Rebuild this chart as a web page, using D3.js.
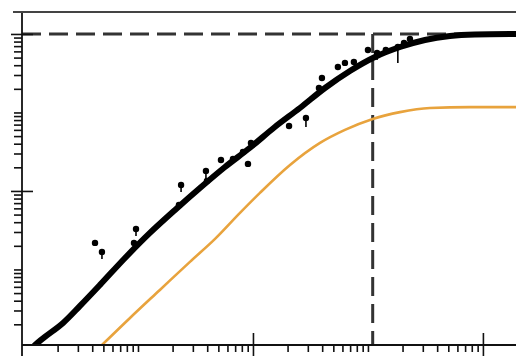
<!DOCTYPE html>
<html>
<head>
<meta charset="utf-8">
<script src="https://cdn.jsdelivr.net/npm/d3@7"></script>
<style>
  html, body { margin: 0; padding: 0; background: #fff; }
  svg { display: block; }
</style>
</head>
<body>
<div id="chart"></div>
<script>
var svgWidth = 516;
var svgHeight = 356;

// thick black model curve
var modelX = [1.27, 1.55, 2.23, 3.13, 4.67, 7.71, 12.7, 21.0, 34.6, 57.1, 94.2, 155, 256, 423, 697, 1150, 1900, 3130, 5160, 8520, 19400];
var modelY = [1.09, 1.38, 2.08, 3.43, 6.35, 14.0, 29.2, 57.3, 109, 202, 355, 653, 1140, 2050, 3380, 5090, 6820, 8390, 9430, 9850, 10000];

// orange curve
var lowerX = [4.86, 8.52, 15.5, 28.3, 46.8, 77.1, 115, 210, 383, 631, 1100, 1900, 3460, 7710, 19400];
var lowerY = [1.09, 2.41, 5.48, 12.5, 24.5, 52.5, 94.4, 214, 409, 599, 826, 1010, 1140, 1170, 1170];

// measured points, with lower end of error bar (null = none)
var obsX = [4.23, 4.86, 9.61, 9.23, 23.7, 22.7, 39.0, 39.8, 52.7, 67.0, 81.8, 90.5, 96.1, 206, 289, 398, 375, 548, 631, 755, 1000, 1200, 1430, 1820, 2060, 2320];
var obsY = [21.8, 16.7, 32.8, 21.8, 119, 66.4, 180, 134, 248, 256, 314, 221, 409, 673, 851, 2750, 2050, 3800, 4280, 4400, 6250, 5730, 6250, 6820, 7680, 8630];
var obsLow = [null, 13.6, 26.7, null, 97.1, null, 138, null, null, null, null, null, null, null, 653, null, null, null, null, null, null, 4660, null, 4280, null, null];

// reference levels
var refY = 10000;
var refX = 1100;

var xDomain = [0.98, 19400];
var yDomain = [1.09, 19050];

var plotLeft = 22, plotRight = 516, plotTop = 12, plotBottom = 345;

var svg = d3.select("#chart")
  .append("svg")
  .attr("width", svgWidth)
  .attr("height", svgHeight);

var x = d3.scaleLog().domain(xDomain).range([plotLeft, plotRight]);
var y = d3.scaleLog().domain(yDomain).range([plotBottom, plotTop]);

svg.append("clipPath").attr("id", "plot")
  .append("rect")
  .attr("x", plotLeft).attr("y", plotTop)
  .attr("width", plotRight - plotLeft).attr("height", plotBottom - plotTop);

var plot = svg.append("g").attr("clip-path", "url(#plot)");

// dashed reference lines
plot.append("line")
  .attr("x1", plotLeft).attr("x2", plotRight)
  .attr("y1", y(refY)).attr("y2", y(refY))
  .attr("stroke", "#333").attr("stroke-width", 3)
  .attr("stroke-dasharray", "19,8");

plot.append("line")
  .attr("x1", x(refX)).attr("x2", x(refX))
  .attr("y1", y(refY)).attr("y2", plotBottom)
  .attr("stroke", "#333").attr("stroke-width", 3)
  .attr("stroke-dasharray", "19,8");

var line = d3.line()
  .x(d => x(d[0]))
  .y(d => y(d[1]))
  .curve(d3.curveMonotoneX);

plot.append("path")
  .datum(d3.zip(lowerX, lowerY))
  .attr("d", line)
  .attr("fill", "none")
  .attr("stroke", "#E8A33D")
  .attr("stroke-width", 2.6);

plot.append("path")
  .datum(d3.zip(modelX, modelY))
  .attr("d", line)
  .attr("fill", "none")
  .attr("stroke", "#000")
  .attr("stroke-width", 6)
  .attr("stroke-linecap", "round");

// points with error bars
var obs = obsX.map((v, i) => ({ x: v, y: obsY[i], low: obsLow[i] }));

plot.selectAll(".err")
  .data(obs.filter(d => d.low != null))
  .enter().append("line")
  .attr("x1", d => x(d.x)).attr("x2", d => x(d.x))
  .attr("y1", d => y(d.y)).attr("y2", d => y(d.low))
  .attr("stroke", "#000").attr("stroke-width", 1.6);

plot.selectAll(".pt")
  .data(obs)
  .enter().append("circle")
  .attr("cx", d => x(d.x))
  .attr("cy", d => y(d.y))
  .attr("r", 3.2)
  .attr("fill", "#000");

// axes: minor ticks 2..9 per decade, crossing majors every second decade
var minorX = [], minorY = [];
for (var k = -1; k <= 5; k++) {
  for (var m = 1; m <= 9; m++) {
    var v = m * Math.pow(10, k);
    if (m === 1 && k % 2 === 0) continue;
    if (v > xDomain[0] && v < xDomain[1]) minorX.push(v);
    if (v > yDomain[0] && v < yDomain[1]) minorY.push(v);
  }
}
var majorX = [100, 10000];
var majorY = [100, 10000];

function styleAxis(g) {
  g.select(".domain").remove();
  g.selectAll(".tick line").attr("stroke", "#111").attr("stroke-width", 1.6);
  g.selectAll(".tick text").remove();
}

svg.append("g")
  .attr("transform", `translate(0, ${plotBottom})`)
  .call(d3.axisBottom(x).tickValues(minorX).tickSizeInner(7).tickSizeOuter(0))
  .call(styleAxis);

svg.append("g")
  .attr("transform", `translate(0, ${plotBottom})`)
  .call(d3.axisBottom(x).tickValues(majorX).tickSizeInner(11).tickSizeOuter(0))
  .call(styleAxis);

svg.append("g")
  .attr("transform", `translate(0, ${plotBottom})`)
  .call(d3.axisBottom(x).tickValues(majorX).tickSizeInner(-12).tickSizeOuter(0))
  .call(styleAxis);

svg.append("g")
  .attr("transform", `translate(${plotLeft}, 0)`)
  .call(d3.axisLeft(y).tickValues(minorY).tickSizeInner(8).tickSizeOuter(0))
  .call(styleAxis);

svg.append("g")
  .attr("transform", `translate(${plotLeft}, 0)`)
  .call(d3.axisLeft(y).tickValues(majorY).tickSizeInner(11).tickSizeOuter(0))
  .call(styleAxis);

svg.append("g")
  .attr("transform", `translate(${plotLeft}, 0)`)
  .call(d3.axisLeft(y).tickValues(majorY).tickSizeInner(-11).tickSizeOuter(0))
  .call(styleAxis);

// axis lines and top frame
svg.append("line")
  .attr("x1", plotLeft).attr("x2", plotRight)
  .attr("y1", plotBottom).attr("y2", plotBottom)
  .attr("stroke", "#111").attr("stroke-width", 1.8);

svg.append("line")
  .attr("x1", plotLeft).attr("x2", plotLeft)
  .attr("y1", plotTop).attr("y2", plotBottom + 11)
  .attr("stroke", "#111").attr("stroke-width", 1.8);

svg.append("line")
  .attr("x1", 13).attr("x2", plotRight)
  .attr("y1", plotTop).attr("y2", plotTop)
  .attr("stroke", "#444").attr("stroke-width", 2);
</script>
</body>
</html>
